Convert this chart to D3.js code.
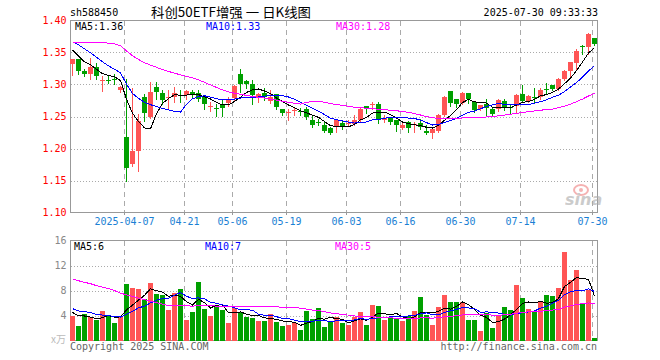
<!DOCTYPE html>
<html><head><meta charset="utf-8">
<script src="https://cdn.jsdelivr.net/npm/d3@7/dist/d3.min.js"></script>
<style>
body{margin:0;background:#fff}
svg{display:block}
text{font-family:"DejaVu Sans Mono",monospace;font-size:10px}
</style>
</head><body>
<svg id="c" width="660" height="360"></svg>
<script>
// ---------- data ----------
const dates = [
"2025-03-24","2025-03-25","2025-03-26","2025-03-27","2025-03-28","2025-03-31",
"2025-04-01","2025-04-02","2025-04-03","2025-04-07","2025-04-08","2025-04-09","2025-04-10","2025-04-11",
"2025-04-14","2025-04-15","2025-04-16","2025-04-17","2025-04-18","2025-04-21","2025-04-22","2025-04-23",
"2025-04-24","2025-04-25","2025-04-28","2025-04-29","2025-04-30",
"2025-05-06","2025-05-07","2025-05-08","2025-05-09","2025-05-12","2025-05-13","2025-05-14","2025-05-15",
"2025-05-16","2025-05-19","2025-05-20","2025-05-21","2025-05-22","2025-05-23","2025-05-26","2025-05-27",
"2025-05-28","2025-05-29","2025-05-30",
"2025-06-03","2025-06-04","2025-06-05","2025-06-06","2025-06-09","2025-06-10","2025-06-11","2025-06-12",
"2025-06-13","2025-06-16","2025-06-17","2025-06-18","2025-06-19","2025-06-20","2025-06-23","2025-06-24",
"2025-06-25","2025-06-26","2025-06-27","2025-06-30",
"2025-07-01","2025-07-02","2025-07-03","2025-07-04","2025-07-07","2025-07-08","2025-07-09","2025-07-10",
"2025-07-11","2025-07-14","2025-07-15","2025-07-16","2025-07-17","2025-07-18","2025-07-21","2025-07-22",
"2025-07-23","2025-07-24","2025-07-25","2025-07-28","2025-07-29","2025-07-30"];

const opens = [
1.332,1.340,1.321,1.317,1.327,1.306,1.307,1.308,1.291,1.218,
1.176,1.196,1.280,1.250,1.296,1.287,1.280,1.281,1.284,1.283,
1.289,1.287,1.280,1.266,1.264,1.270,1.271,1.279,1.316,1.305,
1.300,1.280,1.287,1.274,1.285,1.262,1.256,1.259,1.259,1.262,
1.245,1.241,1.236,1.232,1.233,1.240,1.239,1.239,1.245,1.267,
1.268,1.270,1.245,1.248,1.245,1.232,1.241,1.238,1.240,1.228,
1.224,1.227,1.253,1.290,1.278,1.271,1.286,1.273,1.261,1.270,
1.262,1.261,1.274,1.265,1.267,1.285,1.275,1.281,1.281,1.293,
1.299,1.293,1.308,1.321,1.334,1.360,1.358,1.373];
const highs = [
1.340,1.340,1.325,1.341,1.334,1.313,1.314,1.316,1.298,1.308,
1.295,1.254,1.285,1.304,1.304,1.291,1.291,1.296,1.291,1.291,
1.292,1.291,1.283,1.273,1.270,1.278,1.280,1.299,1.325,1.307,
1.307,1.287,1.295,1.292,1.285,1.262,1.262,1.265,1.263,1.265,
1.253,1.246,1.241,1.234,1.245,1.244,1.245,1.252,1.264,1.267,
1.272,1.272,1.252,1.249,1.245,1.241,1.243,1.242,1.246,1.236,
1.234,1.254,1.282,1.290,1.278,1.289,1.287,1.273,1.268,1.277,
1.263,1.277,1.278,1.270,1.285,1.299,1.283,1.295,1.294,1.302,
1.299,1.310,1.322,1.335,1.356,1.361,1.380,1.373];
const lows = [
1.315,1.316,1.313,1.309,1.309,1.290,1.302,1.301,1.288,1.150,
1.172,1.165,1.243,1.247,1.277,1.269,1.262,1.273,1.272,1.277,
1.279,1.275,1.262,1.258,1.251,1.251,1.266,1.276,1.288,1.294,
1.269,1.272,1.276,1.271,1.262,1.253,1.245,1.252,1.253,1.246,
1.234,1.237,1.226,1.222,1.225,1.231,1.236,1.236,1.242,1.255,
1.261,1.240,1.242,1.239,1.228,1.231,1.225,1.226,1.231,1.223,
1.216,1.225,1.251,1.266,1.265,1.270,1.271,1.257,1.260,1.252,
1.251,1.259,1.260,1.256,1.257,1.273,1.273,1.273,1.278,1.286,
1.291,1.291,1.307,1.313,1.325,1.348,1.348,1.362];
const closes = [
1.340,1.321,1.316,1.327,1.314,1.307,1.306,1.307,1.296,1.170,
1.196,1.243,1.256,1.289,1.288,1.276,1.281,1.287,1.283,1.290,
1.283,1.278,1.269,1.267,1.263,1.263,1.278,1.297,1.300,1.300,
1.283,1.285,1.281,1.281,1.265,1.256,1.257,1.260,1.257,1.249,
1.237,1.240,1.228,1.224,1.244,1.234,1.240,1.245,1.261,1.262,
1.269,1.245,1.248,1.241,1.236,1.237,1.232,1.239,1.234,1.224,
1.231,1.252,1.280,1.271,1.269,1.287,1.277,1.260,1.268,1.263,
1.254,1.276,1.263,1.264,1.283,1.275,1.282,1.280,1.292,1.292,
1.293,1.308,1.321,1.335,1.352,1.359,1.379,1.363];
const volumes = [
3.9,2.3,4.3,3.7,3.25,4.7,4.15,2.8,3.95,9.0,
8.4,8.2,6.6,9.2,7.4,7.25,4.85,7.6,8.2,3.25,
4.5,9.35,5.0,3.9,5.5,4.85,2.8,5.2,4.5,3.75,
3.6,3.1,3.1,4.2,2.9,2.3,2.45,2.8,1.65,4.7,
3.4,5.2,2.1,3.1,3.7,2.8,2.45,3.7,4.6,2.45,
5.65,5.5,3.25,3.6,3.6,3.1,3.9,4.7,6.9,4.05,
2.45,5.3,7.25,6.1,6.1,6.1,3.25,3.25,1.5,4.4,
2.0,3.9,5.3,4.85,8.85,6.8,5.0,4.5,6.3,7.25,
7.1,8.4,14.1,9.65,11.25,6.0,8.05,0.37];
// closes / volumes of the 29 sessions before the window (feed the moving averages)
const preCloses = [1.31,1.32,1.33,1.32,1.33,1.32,1.34,1.39,1.41,1.42,1.42,1.41,
1.40,1.39,1.38,1.37,1.37,1.36,1.36,1.36,1.37,1.38,1.39,1.38,1.38,1.37,1.36,1.35,1.35];
const preVolumes = [11,12,10,13,12,11,12,16,18,15,17,14,16,14,15,12,7,6,7,6.5,
6,5.5,5,6.5,5.5,5,4.5,4.6,4.5];

const priceTicks = [1.10,1.15,1.20,1.25,1.30,1.35,1.40];
const volTicks = [4,8,12,16];
const dateTicks = ["2025-04-07","2025-04-21","2025-05-06","2025-05-19","2025-06-03","2025-06-16","2025-06-30","2025-07-14","2025-07-30"];
const maPeriods = [5,10,30];
const maColors = ["#000000","#0000ff","#ff00ff"];
const priceLegend = ["MA5:1.36","MA10:1.33","MA30:1.28"];
const volLegend = ["MA5:6","MA10:7","MA30:5"];
const headerCode = "sh588450";
const headerTitle = "科创50ETF增强 一 日K线图";
const headerTime = "2025-07-30 09:33:33";

// ---------- drawing ----------
const RED = "#ff5555", GREEN = "#00a000";
const svg = d3.select("#c");
const L = 70.5, R = 597.5, PT = 20.5, PB = 212.5, VT = 240.5, VB = 340.5;

const x = d3.scaleBand().domain(dates).range([70, 70 + 6 * dates.length]).padding(0);
const y = d3.scaleLinear().domain([1.10, 1.40]).range([PB, PT]);
const yv = d3.scaleLinear().domain([0, 16]).range([VB, VT]);
const cx = d => x(d) + 2.5;

function ma(all, pre, n) {
  const full = pre.concat(all);
  return all.map((_, i) => {
    const j = pre.length + i;
    return d3.mean(full.slice(j - n + 1, j + 1));
  });
}

const g = svg.append("g").attr("shape-rendering", "crispEdges");

// horizontal dotted grid
g.selectAll(".hp").data(priceTicks.filter(v => v > 1.101 && v < 1.399)).join("line")
  .attr("x1", L).attr("x2", R).attr("y1", d => Math.round(y(d)) + 0.5).attr("y2", d => Math.round(y(d)) + 0.5)
  .attr("stroke", "#aaaaaa").attr("stroke-dasharray", "1,2");
g.selectAll(".hv").data(volTicks.filter(v => v < 16)).join("line")
  .attr("x1", L).attr("x2", R).attr("y1", d => Math.round(yv(d)) + 0.5).attr("y2", d => Math.round(yv(d)) + 0.5)
  .attr("stroke", "#aaaaaa").attr("stroke-dasharray", "1,2");

// vertical dashed grid
[[PT, PB], [VT, VB]].forEach(([t, b]) => {
  g.selectAll(null).data(dateTicks).join("line")
    .attr("x1", d => x(d) + 0.5).attr("x2", d => x(d) + 0.5)
    .attr("y1", t).attr("y2", b)
    .attr("stroke", "#aaaaaa").attr("stroke-dasharray", "5,4");
});

// frames
[[PT, PB], [VT, VB]].forEach(([t, b]) => {
  g.append("rect").attr("x", L).attr("y", t).attr("width", R - L).attr("height", b - t)
    .attr("fill", "none").attr("stroke", "#999999");
});

// axes
const ax = svg.append("g").attr("transform", `translate(-2.5,${PB})`)
  .call(d3.axisBottom(x).tickValues(dateTicks).tickSize(2).tickPadding(3)
    .tickFormat(d => d === dateTicks[0] ? d : d.slice(5)));
ax.select(".domain").remove();
ax.selectAll("line").attr("stroke", "#999999").attr("shape-rendering", "crispEdges");
ax.selectAll("text").attr("fill", "#1a7fd4").attr("font-family", "DejaVu Sans Mono").attr("font-size", 10);

const ay = svg.append("g").attr("transform", `translate(${L},0)`)
  .call(d3.axisLeft(y).tickValues(priceTicks).tickSize(0).tickPadding(4).tickFormat(d3.format(".2f")));
ay.select(".domain").remove();
ay.selectAll("text").attr("fill", "#ff0000").attr("font-family", "DejaVu Sans Mono").attr("font-size", 10);

const avy = svg.append("g").attr("transform", `translate(${L},0)`)
  .call(d3.axisLeft(yv).tickValues(volTicks).tickSize(0).tickPadding(4));
avy.select(".domain").remove();
avy.selectAll("text").attr("fill", "#888888").attr("font-family", "DejaVu Sans Mono").attr("font-size", 10);

// candles
const idx = d3.range(dates.length);
const col = i => closes[i] >= opens[i] ? RED : GREEN;
const cg = svg.append("g").attr("shape-rendering", "crispEdges");
cg.selectAll(".wick").data(idx).join("line")
  .attr("x1", i => cx(dates[i])).attr("x2", i => cx(dates[i]))
  .attr("y1", i => Math.round(y(highs[i]))).attr("y2", i => Math.round(y(lows[i])) + 1)
  .attr("stroke", col);
cg.selectAll(".body").data(idx).join("rect")
  .attr("x", i => x(dates[i]))
  .attr("width", 5)
  .attr("y", i => Math.round(y(Math.max(opens[i], closes[i]))))
  .attr("height", i => Math.max(1, Math.round(y(Math.min(opens[i], closes[i]))) - Math.round(y(Math.max(opens[i], closes[i])))))
  .attr("fill", col);

// volume bars
cg.selectAll(".vol").data(idx).join("rect")
  .attr("x", i => x(dates[i]))
  .attr("width", 5)
  .attr("y", i => Math.round(yv(volumes[i])))
  .attr("height", i => Math.round(yv(0)) - Math.round(yv(volumes[i])))
  .attr("fill", col);

// moving averages
const lg = svg.append("g").attr("fill", "none").attr("stroke-width", 1).attr("shape-rendering", "crispEdges");
maPeriods.forEach((n, k) => {
  const mp = ma(closes, preCloses, n);
  lg.append("path").attr("d", d3.line().x((_, i) => cx(dates[i])).y(v => y(v))(mp))
    .attr("stroke", maColors[k]);
  const mv = ma(volumes, preVolumes, n);
  lg.append("path").attr("d", d3.line().x((_, i) => cx(dates[i])).y(v => yv(v))(mv))
    .attr("stroke", maColors[k]);
});

// legends
const legX = [75, 206, 336];
priceLegend.forEach((t, k) => svg.append("text").attr("x", legX[k]).attr("y", 30).attr("fill", maColors[k]).text(t));
volLegend.forEach((t, k) => svg.append("text").attr("x", legX[k] - 1).attr("y", 250).attr("fill", maColors[k]).text(t));

// header
svg.append("text").attr("x", 70).attr("y", 16).attr("fill", "#000").text(headerCode);
svg.append("text").attr("x", 151).attr("y", 17).attr("fill", "#000")
  .style("font-family", "'Noto Sans CJK SC',sans-serif").style("font-size", "13px")
  .attr("textLength", 160).attr("lengthAdjust", "spacingAndGlyphs").text(headerTitle);
svg.append("text").attr("x", 598).attr("y", 16).attr("text-anchor", "end").attr("fill", "#000").text(headerTime);

// footer
svg.append("text").attr("x", 70).attr("y", 350).attr("fill", "#666").text("Copyright 2025 SINA.COM");
svg.append("text").attr("x", 597).attr("y", 350).attr("text-anchor", "end").attr("fill", "#666").text("http://finance.sina.com.cn");
svg.append("text").attr("x", 66).attr("y", 343).attr("text-anchor", "end").attr("fill", "#bbb")
  .style("font-family", "'Noto Sans CJK SC',sans-serif").style("font-size", "10px").text("x万");

// watermark
const wm = svg.append("g").attr("opacity", 0.6);
wm.append("ellipse").attr("cx", 581).attr("cy", 190).attr("rx", 7).attr("ry", 5).attr("fill", "none").attr("stroke", "#f08080").attr("stroke-width", 2);
wm.append("circle").attr("cx", 581).attr("cy", 190).attr("r", 2).attr("fill", "#f08080");
wm.append("text").attr("x", 565).attr("y", 205).attr("fill", "#aaa")
  .style("font-family", "'DejaVu Sans',sans-serif").style("font-size", "16px").style("font-style", "italic").style("font-weight", "bold").text("sina");
</script>
</body></html>
